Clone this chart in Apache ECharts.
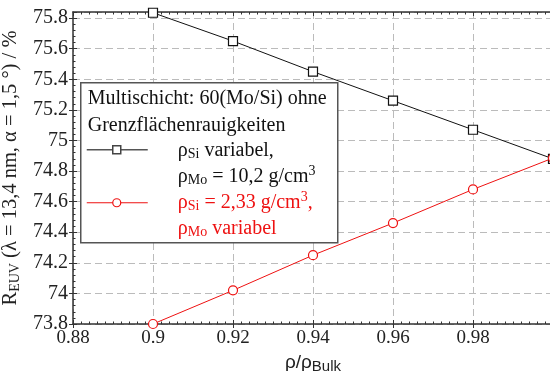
<!DOCTYPE html>
<html>
<head>
<meta charset="utf-8">
<script src="https://cdn.jsdelivr.net/npm/echarts@6/dist/echarts.min.js"></script>
<style>
  html, body { margin: 0; padding: 0; background: #fff; }
  #chart { width: 550px; height: 371px; }
</style>
</head>
<body>
<div id="chart"></div>
<script>
// x values: relative density rho/rho_Bulk
const densityRatio = [0.9, 0.92, 0.94, 0.96, 0.98, 1.0];
// R_EUV in % for rho_Si variable, rho_Mo = 10,2 g/cm3
const reflSiVar = [75.835, 75.65, 75.45, 75.26, 75.07, 74.88];
// R_EUV in % for rho_Si = 2,33 g/cm3, rho_Mo variable
const reflMoVar = [73.8, 74.02, 74.25, 74.46, 74.68, 74.885];

const serif = 'Liberation Serif';
const sans = 'Liberation Sans';
const red = '#ee1111';
const ink = '#222';

const chart = echarts.init(document.getElementById('chart'));

const fmt = (v) => String(+v.toFixed(2));

const gridLine = { show: true, lineStyle: { color: '#bbbbbb', type: [7, 4], width: 1 } };
const axisLine = { show: true, lineStyle: { color: '#333', width: 1.5 } };

// overlay axis: only inward major + minor ticks
const tickOverlay = (extra) => Object.assign({
    type: 'value',
    axisLine: { show: false },
    axisTick: { show: true, inside: true, length: 4, lineStyle: { color: '#333' } },
    minorTick: { show: true, length: 2.5, lineStyle: { color: '#333' } },
    splitLine: { show: false },
    axisLabel: { show: false }
}, extra);

const sub = (fill) => ({ fontFamily: serif, fontSize: 14, padding: [8, 0, 0, 0], fill: fill, color: fill });
const sup = (fill) => ({ fontFamily: serif, fontSize: 14, padding: [0, 0, 10, 0], fill: fill, color: fill });

// legend box pieces (all on top of the grid lines)
const Z = 100;
const legendText = (x, y, text, fill, rich) => ({
    type: 'text', x: x, y: y, z: Z,
    style: { text: text, fill: fill, fontFamily: serif, fontSize: 20, verticalAlign: 'middle', rich: rich || {} }
});

chart.setOption({
    animation: false,
    grid: { left: 73, right: -3, top: 12, bottom: 47, outerBoundsMode: 'none', containLabel: false },
    xAxis: [{
        type: 'value',
        min: 0.88,
        max: 1.0,
        interval: 0.02,
        axisLine: axisLine,
        axisTick: { show: true, inside: false, length: 4, lineStyle: { color: '#333' } },
        splitLine: gridLine,
        axisLabel: {
            color: ink, fontFamily: serif, fontSize: 19, margin: 5,
            showMaxLabel: false, formatter: fmt
        },
        name: 'ρ/ρ{sub|Bulk}',
        nameLocation: 'middle',
        nameGap: 27,
        nameTextStyle: {
            color: ink, fontFamily: sans, fontSize: 19,
            rich: { sub: { fontFamily: sans, fontSize: 15, padding: [8, 0, 0, 0], color: ink } }
        }
    },
    tickOverlay({ position: 'bottom', min: 0.88, max: 1.0, interval: 0.02, minorTick: { show: true, splitNumber: 10, length: 2.5, lineStyle: { color: '#333' } } }),
    tickOverlay({ position: 'top', min: 0.88, max: 1.0, interval: 0.02, axisLine: axisLine, minorTick: { show: true, splitNumber: 10, length: 2.5, lineStyle: { color: '#333' } } })
    ],
    yAxis: [{
        type: 'value',
        min: 73.8,
        max: 75.84,
        interval: 0.2,
        axisLine: axisLine,
        axisTick: { show: true, inside: false, length: 4, lineStyle: { color: '#333' } },
        splitLine: gridLine,
        axisLabel: {
            color: ink, fontFamily: serif, fontSize: 20, margin: 5,
            showMaxLabel: false, formatter: fmt
        },
        name: 'R{sub|EUV} (λ = 13,4 nm, α = 1,5 °) / %',
        nameLocation: 'middle',
        nameGap: 48,
        nameTextStyle: {
            color: ink, fontFamily: serif, fontSize: 20.5,
            rich: { sub: sub(ink) }
        }
    },
    tickOverlay({ position: 'left', min: 73.8, max: 75.84, interval: 0.2, minorTick: { show: true, splitNumber: 5, length: 2.5, lineStyle: { color: '#333' } } })
    ],
    series: [{
        type: 'line',
        data: densityRatio.map((x, i) => [x, reflSiVar[i]]),
        symbol: 'rect',
        symbolSize: 9,
        showAllSymbol: true,
        clip: false,
        lineStyle: { color: '#111', width: 1 },
        itemStyle: { color: '#fff', borderColor: '#111', borderWidth: 1.2 },
        z: 3
    }, {
        type: 'line',
        data: densityRatio.map((x, i) => [x, reflMoVar[i]]),
        symbol: 'circle',
        symbolSize: 9,
        showAllSymbol: true,
        clip: false,
        lineStyle: { color: red, width: 1 },
        itemStyle: { color: '#fff', borderColor: red, borderWidth: 1.2 },
        z: 3
    }],
    graphic: [{
        type: 'group',
        left: 80,
        top: 82,
        z: Z,
        children: [
            { type: 'rect', z: Z - 1, shape: { x: 0, y: 0, width: 257, height: 160 },
              style: { fill: '#fff', stroke: '#555', lineWidth: 1.5 } },
            legendText(7, 16, 'Multischicht: 60(Mo/Si) ohne', '#111'),
            legendText(7, 43, 'Grenzflächenrauigkeiten', '#111'),
            { type: 'line', z: Z, shape: { x1: 6, y1: 67, x2: 67, y2: 67 }, style: { stroke: '#555', lineWidth: 1.5 } },
            { type: 'rect', z: Z + 1, shape: { x: 32, y: 63, width: 8, height: 8 }, style: { fill: '#fff', stroke: '#444', lineWidth: 1.5 } },
            legendText(97, 68, 'ρ{sub|Si} variabel,', '#111', { sub: sub('#111') }),
            legendText(97, 94, 'ρ{sub|Mo} = 10,2 g/cm{sup|3}', '#111', { sub: sub('#111'), sup: sup('#111') }),
            { type: 'line', z: Z, shape: { x1: 6, y1: 120, x2: 67, y2: 120 }, style: { stroke: red, lineWidth: 1.2 } },
            { type: 'circle', z: Z + 1, shape: { cx: 36, cy: 120, r: 4 }, style: { fill: '#fff', stroke: red, lineWidth: 1.2 } },
            legendText(97, 120, 'ρ{sub|Si} = 2,33 g/cm{sup|3},', red, { sub: sub(red), sup: sup(red) }),
            legendText(97, 146, 'ρ{sub|Mo} variabel', red, { sub: sub(red) })
        ]
    }]
});
</script>
</body>
</html>
